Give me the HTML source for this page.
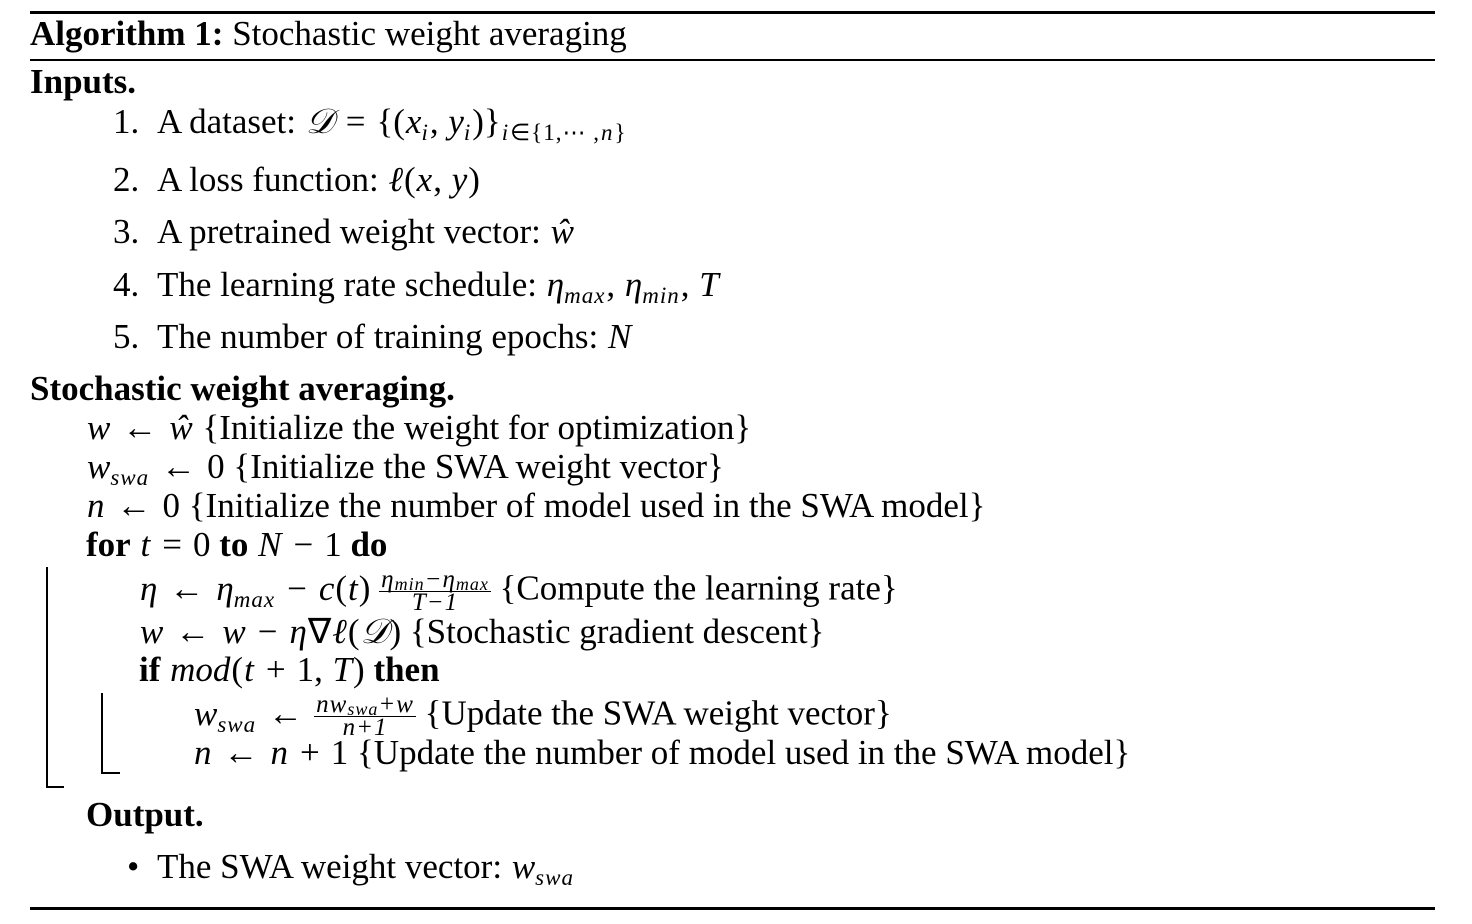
<!DOCTYPE html>
<html><head><meta charset="utf-8"><style>
body{margin:0;width:1472px;height:924px;background:#fff;position:relative;font-family:"Liberation Serif",serif;font-size:35px;color:#000;overflow:hidden}
.l{position:absolute;line-height:36px;white-space:nowrap}
i{font-style:italic;padding:0 1px}
sub{font-size:23px;vertical-align:-7px;line-height:0;letter-spacing:1px}
.o{margin:0 11px}
.r{position:absolute;background:#000}
.fr{display:inline-block;vertical-align:middle;text-align:center;font-size:25px;line-height:22px;font-style:italic;letter-spacing:1px}
.fr span{display:block}
.fr .n{border-bottom:1.5px solid #000;padding:0 2px}
.s{font-size:18px;vertical-align:-3px}
.n1{display:inline-block;width:44px}
</style></head><body>
<div class="r" style="left:30px;top:11px;width:1405px;height:3px"></div>
<div class="l" style="left:30px;top:16px"><b>Algorithm 1:</b> Stochastic weight averaging</div>
<div class="r" style="left:30px;top:59px;width:1405px;height:2px"></div>
<div class="l" style="left:30px;top:64px"><b>Inputs.</b></div>
<div class="l" style="left:113px;top:104px"><span class="n1">1.</span>A dataset: <i>𝒟</i><span class="o">=</span>{(<i>x<sub>i</sub></i>, <i>y<sub>i</sub></i>)}<sub><i>i</i>∈{1,⋯ ,<i>n</i>}</sub></div>
<div class="l" style="left:113px;top:162px"><span class="n1">2.</span>A loss function: <i>ℓ</i>(<i>x</i>, <i>y</i>)</div>
<div class="l" style="left:113px;top:214px"><span class="n1">3.</span>A pretrained weight vector: <i>ŵ</i></div>
<div class="l" style="left:113px;top:267px"><span class="n1">4.</span>The learning rate schedule: <i>η<sub>max</sub></i>, <i>η<sub>min</sub></i>, <i>T</i></div>
<div class="l" style="left:113px;top:319px"><span class="n1">5.</span>The number of training epochs: <i>N</i></div>
<div class="l" style="left:30px;top:371px"><b>Stochastic weight averaging.</b></div>
<div class="l" style="left:86px;top:410px"><i>w</i><span class="o">←</span><i>ŵ</i> {Initialize the weight for optimization}</div>
<div class="l" style="left:86px;top:449px"><i>w<sub>swa</sub></i><span class="o">←</span>0 {Initialize the SWA weight vector}</div>
<div class="l" style="left:86px;top:488px"><i>n</i><span class="o">←</span>0 {Initialize the number of model used in the SWA model}</div>
<div class="l" style="left:86px;top:527px"><b>for</b> <i>t</i><span class="o">=</span>0 <b>to</b> <i>N</i><span class="o">−</span>1 <b>do</b></div>
<div class="l" style="left:139px;top:569px"><i>η</i><span class="o">←</span><i>η<sub>max</sub></i><span class="o">−</span><i>c</i>(<i>t</i>) <span class="fr"><span class="n">η<sub class="s">min</sub>−η<sub class="s">max</sub></span><span>T−1</span></span> {Compute the learning rate}</div>
<div class="l" style="left:139px;top:614px"><i>w</i><span class="o">←</span><i>w</i><span class="o">−</span><i>η</i>∇<i>ℓ</i>(<i>𝒟</i>) {Stochastic gradient descent}</div>
<div class="l" style="left:139px;top:652px"><b>if</b> <i>mod</i>(<i>t</i><span class="o">+</span>1, <i>T</i>) <b>then</b></div>
<div class="l" style="left:193px;top:694px"><i>w<sub>swa</sub></i><span class="o">←</span><span class="fr"><span class="n">nw<sub class="s">swa</sub>+w</span><span>n+1</span></span> {Update the SWA weight vector}</div>
<div class="l" style="left:193px;top:735px"><i>n</i><span class="o">←</span><i>n</i><span class="o">+</span>1 {Update the number of model used in the SWA model}</div>
<div class="r" style="left:46px;top:567px;width:2px;height:221px"></div>
<div class="r" style="left:46px;top:786px;width:18px;height:2px"></div>
<div class="r" style="left:101px;top:693px;width:2px;height:81px"></div>
<div class="r" style="left:101px;top:772px;width:19px;height:2px"></div>
<div class="l" style="left:86px;top:797px"><b>Output.</b></div>
<div class="l" style="left:127px;top:849px"><span style="display:inline-block;width:30px">•</span>The SWA weight vector: <i>w<sub>swa</sub></i></div>
<div class="r" style="left:30px;top:907px;width:1405px;height:3px"></div>
</body></html>
